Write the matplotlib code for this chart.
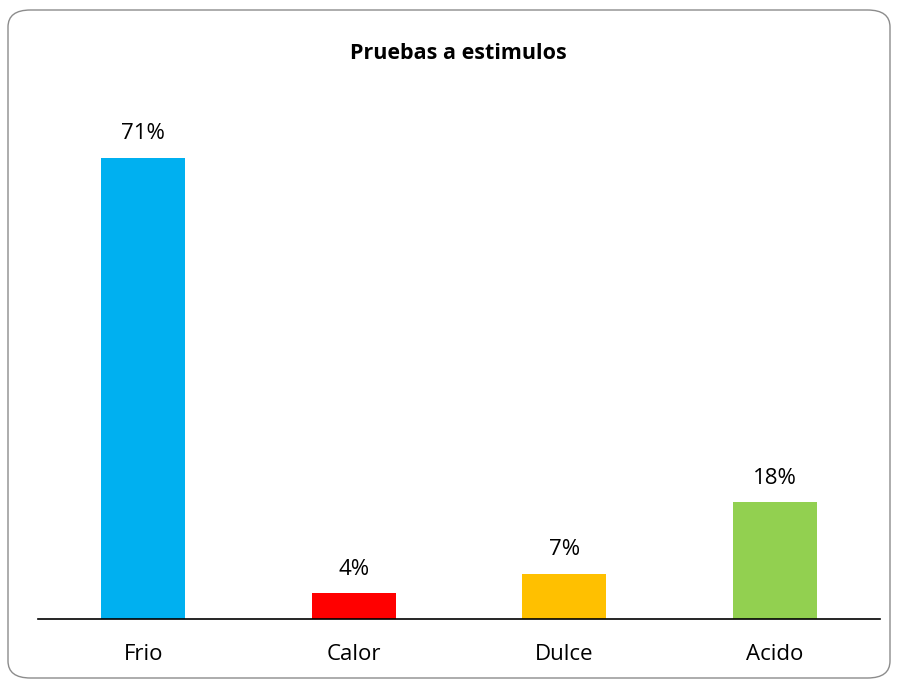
import matplotlib
matplotlib.use("Agg")
import matplotlib.pyplot as plt
from matplotlib.patches import FancyBboxPatch

categories = ["Frio", "Calor", "Dulce", "Acido"]
values = [71, 4, 7, 18]
colors = ["#00B0F0", "#FF0000", "#FFC000", "#92D050"]
title = "Pruebas a estimulos"

plt.rcParams['font.family'] = ['Open Sans', 'DejaVu Sans']

fig = plt.figure(figsize=(8.98, 6.8), dpi=100)
border = FancyBboxPatch((8/898, 2/680), 882/898, 668/680,
                        boxstyle="round,pad=0,rounding_size=0.025",
                        transform=fig.transFigure, facecolor="white",
                        edgecolor="#8c8c8c", linewidth=1.0, zorder=-5)
fig.patches.append(border)

ax = fig.add_axes([38/898, 61/680, 842/898, 520/680])
ax.set_facecolor("none")
x = range(len(categories))
bars = ax.bar(x, values, width=0.40, color=colors)
for xi, v in zip(x, values):
    ax.text(xi, v + 2.8, f"{v}%", ha="center", va="baseline", fontsize=16)
ax.set_xlim(-0.5, 3.5)
ax.set_ylim(0, 80)
ax.set_xticks(list(x))
ax.set_xticklabels(categories, fontsize=16)
ax.tick_params(axis="x", length=0, pad=18)
ax.set_yticks([])
for s in ["top", "right", "left"]:
    ax.spines[s].set_visible(False)
ax.spines["bottom"].set_color("black")
ax.spines["bottom"].set_linewidth(1.2)

fig.text(458/898, 1 - 59/680, title, ha="center", va="baseline",
         fontsize=15.5, fontweight="bold")

fig.savefig("out.png", dpi=100)
